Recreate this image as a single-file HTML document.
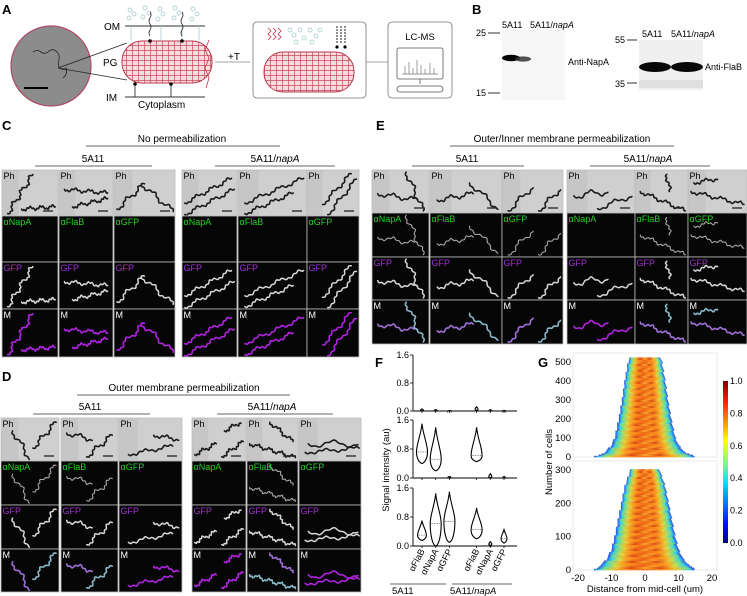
<!DOCTYPE html>
<html><head><meta charset="utf-8">
<style>
html,body{margin:0;padding:0;background:#fff;}
svg{display:block;font-family:"Liberation Sans",Arial,sans-serif;}
</style></head>
<body>
<svg id="fig" width="747" height="596" viewBox="0 0 747 596" xmlns="http://www.w3.org/2000/svg">
<defs>
<pattern id="pgGrid" width="6" height="5" patternUnits="userSpaceOnUse">
<rect width="6" height="5" fill="#f7dde0"/>
<path d="M0 0.5H6M0.5 0V5" stroke="#c84a5a" stroke-width="0.7"/>
</pattern>
<linearGradient id="jet" x1="0" y1="1" x2="0" y2="0">
<stop offset="0" stop-color="#00008f"/><stop offset="0.12" stop-color="#0010ff"/>
<stop offset="0.37" stop-color="#00e0ff"/><stop offset="0.5" stop-color="#80ff80"/>
<stop offset="0.63" stop-color="#ffff00"/><stop offset="0.87" stop-color="#ff2000"/>
<stop offset="1" stop-color="#800000"/></linearGradient>
<linearGradient id="heatA" x1="0" y1="0" x2="1" y2="0">
<stop offset="0" stop-color="#2a50ff"/><stop offset="0.05" stop-color="#30d0e8"/>
<stop offset="0.14" stop-color="#b8e050"/><stop offset="0.24" stop-color="#ffa020"/>
<stop offset="0.5" stop-color="#f06a18"/><stop offset="0.76" stop-color="#ffa020"/>
<stop offset="0.86" stop-color="#b8e050"/><stop offset="0.95" stop-color="#30d0e8"/>
<stop offset="1" stop-color="#2a50ff"/></linearGradient>
<linearGradient id="heatB" x1="0" y1="0" x2="1" y2="0">
<stop offset="0" stop-color="#3060f0"/><stop offset="0.07" stop-color="#40d8d0"/>
<stop offset="0.18" stop-color="#e8e040"/><stop offset="0.3" stop-color="#f58a20"/>
<stop offset="0.45" stop-color="#e85010"/><stop offset="0.6" stop-color="#ffb030"/><stop offset="0.7" stop-color="#f07020"/>
<stop offset="0.82" stop-color="#e8e040"/><stop offset="0.93" stop-color="#40d8d0"/>
<stop offset="1" stop-color="#3060f0"/></linearGradient>
<linearGradient id="heatC" x1="0" y1="0" x2="1" y2="0">
<stop offset="0" stop-color="#2040e0"/><stop offset="0.06" stop-color="#60e0a0"/>
<stop offset="0.2" stop-color="#f0c030"/><stop offset="0.35" stop-color="#e04a10"/>
<stop offset="0.5" stop-color="#f8a028"/><stop offset="0.65" stop-color="#e05010"/>
<stop offset="0.8" stop-color="#f0c030"/><stop offset="0.94" stop-color="#60e0a0"/>
<stop offset="1" stop-color="#2040e0"/></linearGradient>
</defs>

<!-- Panel A -->
<g>
<text x="2" y="14" font-size="13" font-weight="bold">A</text>
<circle cx="51" cy="66" r="40" fill="#8c8c8c" stroke="#b04a62" stroke-width="1.2"/>
<path d="M33 52 q4 -3 8 0 q4 3 8 -1 q4 -3 8 1 q3 3 2 8 q-2 5 1 8 q4 3 6 0 q2 6 -3 10" fill="none" stroke="#222" stroke-width="0.8"/>
<line x1="24" y1="88" x2="48" y2="88" stroke="#000" stroke-width="2"/>
<line x1="58" y1="68" x2="127" y2="43" stroke="#222" stroke-width="0.8"/>
<line x1="58" y1="68" x2="127" y2="80" stroke="#222" stroke-width="0.8"/>
<text x="104" y="30" font-size="10">OM</text>
<line x1="125" y1="26" x2="205" y2="26" stroke="#333" stroke-width="0.9"/>
<text x="103" y="66" font-size="10">PG</text>
<text x="106" y="101" font-size="10">IM</text>
<line x1="125" y1="97" x2="205" y2="97" stroke="#333" stroke-width="0.9"/>
<text x="138" y="108" font-size="10">Cytoplasm</text>
<g stroke="#9cc4c8" fill="none" stroke-width="0.7">
<circle cx="130" cy="10" r="2"/><circle cx="134" cy="14" r="2"/><circle cx="129" cy="18" r="2"/>
<circle cx="145" cy="8" r="2"/><circle cx="149" cy="13" r="2"/><circle cx="143" cy="17" r="2"/>
<circle cx="160" cy="9" r="2"/><circle cx="163" cy="14" r="2"/><circle cx="158" cy="19" r="2"/>
<circle cx="175" cy="8" r="2"/><circle cx="179" cy="13" r="2"/><circle cx="174" cy="18" r="2"/>
<circle cx="193" cy="9" r="2"/><circle cx="197" cy="14" r="2"/><circle cx="192" cy="19" r="2"/>
<path d="M131 26V40M161 26V40M182 26V40M199 26V40"/>
</g>
<rect x="122" y="41" width="90" height="42" rx="20" fill="url(#pgGrid)" stroke="#b83a4e" stroke-width="1"/>
<path d="M150 12 q2 3 0 6 q-2 3 0 6 q2 3 0 6 q-2 3 0 6 M182 12 q2 3 0 6 q-2 3 0 6 q2 3 0 6 q-2 3 0 6" stroke="#222" stroke-width="0.8" fill="none"/>
<circle cx="150" cy="41" r="1.8" fill="#000"/><circle cx="182" cy="41" r="1.8" fill="#000"/>
<circle cx="135" cy="84" r="1.8" fill="#000"/><circle cx="171" cy="84" r="1.8" fill="#000"/>
<path d="M135 85v12M171 85v12" stroke="#222" stroke-width="0.8"/>
<path d="M209 40 l-4 10 l4 8 l-4 10 l4 10 l-3 10" stroke="#c83040" stroke-width="0.8" fill="none"/>
<text x="228" y="60" font-size="10">+T</text>
<line x1="215" y1="62" x2="250" y2="62" stroke="#888" stroke-width="0.8"/>
<rect x="253" y="22" width="113" height="76" rx="4" fill="#fff" stroke="#777" stroke-width="0.8"/>
<rect x="264" y="52" width="90" height="40" rx="19" fill="url(#pgGrid)" stroke="#b83a4e" stroke-width="1"/>
<g stroke="#9cc4c8" fill="none" stroke-width="0.7">
<circle cx="290" cy="30" r="2"/><circle cx="294" cy="35" r="2"/><circle cx="300" cy="30" r="2"/><circle cx="304" cy="38" r="2"/>
<circle cx="310" cy="30" r="2"/><circle cx="316" cy="36" r="2"/><circle cx="320" cy="30" r="2"/><circle cx="296" cy="42" r="2"/><circle cx="312" cy="42" r="2"/>
</g>
<path d="M268 28 l3 3 l-3 3 l3 3 l-3 3 M273 28 l3 3 l-3 3 l3 3 l-3 3 M278 28 l3 3 l-3 3 l3 3 l-3 3" stroke="#c83040" stroke-width="0.8" fill="none"/>
<path d="M337 26v18M341 26v18M345 26v18" stroke="#222" stroke-width="1" stroke-dasharray="2 1"/>
<circle cx="337" cy="47" r="1.6" fill="#000"/><circle cx="345" cy="47" r="1.6" fill="#000"/>
<line x1="366" y1="62" x2="388" y2="62" stroke="#888" stroke-width="0.8"/>
<rect x="388" y="22" width="64" height="76" rx="4" fill="#fff" stroke="#777" stroke-width="0.8"/>
<text x="420" y="40" font-size="9.5" text-anchor="middle">LC-MS</text>
<rect x="397" y="48" width="46" height="31" rx="2" fill="#fff" stroke="#555" stroke-width="0.8"/>
<path d="M402 74h36M405 74v-8M409 74v-12M413 74v-6M417 74v-14M421 74v-9M425 74v-5M430 74v-11M434 74v-6" stroke="#777" stroke-width="0.7"/>
<path d="M420 79v5" stroke="#555" stroke-width="0.8"/>
<rect x="397" y="86" width="46" height="6" rx="3" fill="#fff" stroke="#555" stroke-width="0.8"/>
</g>

<!-- Panel B -->
<g>
<text x="472" y="14" font-size="13" font-weight="bold">B</text>
<text x="502" y="28" font-size="9">5A11</text>
<text x="530" y="28" font-size="9">5A11/<tspan font-style="italic">napA</tspan></text>
<rect x="502" y="30" width="63" height="70" fill="#f6f6f6"/>
<ellipse cx="511" cy="58" rx="9" ry="3.2" fill="#050505"/>
<ellipse cx="523" cy="59" rx="8" ry="2.6" fill="#333" opacity="0.85"/>
<text x="476" y="36" font-size="9">25</text>
<line x1="488" y1="33" x2="500" y2="33" stroke="#000" stroke-width="0.8"/>
<text x="476" y="96" font-size="9">15</text>
<line x1="488" y1="93" x2="500" y2="93" stroke="#000" stroke-width="0.8"/>
<text x="568" y="65" font-size="9">Anti-NapA</text>
<text x="642" y="37" font-size="9">5A11</text>
<text x="671" y="37" font-size="9">5A11/<tspan font-style="italic">napA</tspan></text>
<rect x="639" y="40" width="64" height="50" fill="#efefef"/>
<ellipse cx="655" cy="67" rx="16" ry="5" fill="#080808"/>
<ellipse cx="687" cy="67" rx="16" ry="5" fill="#080808"/>
<rect x="639" y="80" width="64" height="8" fill="#e0e0e0"/>
<text x="615" y="43" font-size="9">55</text>
<line x1="627" y1="40" x2="637" y2="40" stroke="#000" stroke-width="0.8"/>
<text x="615" y="87" font-size="9">35</text>
<line x1="627" y1="83" x2="637" y2="83" stroke="#000" stroke-width="0.8"/>
<text x="705" y="70" font-size="9">Anti-FlaB</text>
</g>

<!-- Headers C, D, E -->
<g font-size="10">
<text x="2" y="130" font-size="13" font-weight="bold">C</text>
<text x="182" y="142" text-anchor="middle">No permeabilization</text>
<line x1="86" y1="146" x2="280" y2="146" stroke="#333" stroke-width="0.8"/>
<text x="93" y="162" text-anchor="middle">5A11</text>
<line x1="35" y1="166" x2="152" y2="166" stroke="#333" stroke-width="0.8"/>
<text x="275" y="162" text-anchor="middle">5A11/<tspan font-style="italic">napA</tspan></text>
<line x1="215" y1="166" x2="335" y2="166" stroke="#333" stroke-width="0.8"/>

<text x="376" y="130" font-size="13" font-weight="bold">E</text>
<text x="562" y="142" text-anchor="middle">Outer/Inner membrane permeabilization</text>
<line x1="450" y1="146" x2="674" y2="146" stroke="#333" stroke-width="0.8"/>
<text x="467" y="162" text-anchor="middle">5A11</text>
<line x1="412" y1="166" x2="524" y2="166" stroke="#333" stroke-width="0.8"/>
<text x="648" y="162" text-anchor="middle">5A11/<tspan font-style="italic">napA</tspan></text>
<line x1="590" y1="166" x2="710" y2="166" stroke="#333" stroke-width="0.8"/>

<text x="2" y="381" font-size="13" font-weight="bold">D</text>
<text x="184" y="391" text-anchor="middle">Outer membrane permeabilization</text>
<line x1="77" y1="395" x2="290" y2="395" stroke="#333" stroke-width="0.8"/>
<text x="90" y="410" text-anchor="middle">5A11</text>
<line x1="33" y1="414" x2="150" y2="414" stroke="#333" stroke-width="0.8"/>
<text x="272" y="410" text-anchor="middle">5A11/<tspan font-style="italic">napA</tspan></text>
<line x1="217" y1="414" x2="333" y2="414" stroke="#333" stroke-width="0.8"/>
</g>

<g id="tiles"></g>

<!-- Panel F -->
<g id="panelF">
<text x="375" y="367" font-size="13" font-weight="bold">F</text>
<text transform="translate(389,470) rotate(-90)" font-size="9.5" text-anchor="middle">Signal intensity (au)</text>
</g>

<!-- Panel G -->
<g id="panelG">
<text x="538" y="367" font-size="13" font-weight="bold">G</text>
<text transform="translate(552,462) rotate(-90)" font-size="9.5" text-anchor="middle">Number of cells</text>
<text x="645" y="592" font-size="9.5" text-anchor="middle">Distance from mid-cell (um)</text>
<rect x="723" y="381" width="5" height="162" fill="url(#jet)"/>
</g>
</svg>

<script>
// ===== Panel F data =====
var fCategories = ["\u03b1FlaB","\u03b1NapA","\u03b1GFP","\u03b1FlaB","\u03b1NapA","\u03b1GFP"];
var fTicks = [0, 0.8, 1.6];
var fTickLabels = ["0.0","0.8","1.6"];
var topMin = [0,0,0,0,0,0];
var topMed = [0.02,0.02,0,0.05,0.01,0];
var topMax = [0.06,0.04,0.01,0.12,0.04,0.02];
var midMin = [0.4,0.2,0,0.45,0,0];
var midMed = [0.72,0.52,0.02,0.62,0.03,0.01];
var midMax = [1.5,1.4,0.04,1.4,0.12,0.04];
var botMin = [0.15,0,0.1,0.2,0,0.08];
var botMed = [0.3,0.62,0.68,0.45,0.05,0.2];
var botMax = [0.7,1.45,1.5,1.05,0.12,0.45];

// ===== Panel G data =====
var gTicksUpper = [0,100,200,300,400,500];
var gTicksLower = [0,100,200,300];
var gXTicks = [-20,-10,0,10,20];
var cbTicks = [0,0.2,0.4,0.6,0.8,1.0];
var upperCells = [0,20,60,100,200,300,400,500,520];
var upperHalf = [15,12,10,9,7.8,6.8,6,5,4.5];
var lowerCells = [0,10,30,60,100,150,200,250,300];
var lowerHalf = [15,13.5,11.5,10,9,8,7,6,4.3];

var NS = "http://www.w3.org/2000/svg";
function mk(tag, attrs, parent){
  var e = document.createElementNS(NS, tag);
  for (var k in attrs) e.setAttribute(k, attrs[k]);
  if (parent) parent.appendChild(e);
  return e;
}

// ===== Micrograph tiles =====
var tilesG = document.getElementById("tiles");
function wave(x1,y1,x2,y2,amp,per){
  var pts=[], n=60, dx=x2-x1, dy=y2-y1, L=Math.sqrt(dx*dx+dy*dy), nx=-dy/L, ny=dx/L;
  for (var i=0;i<=n;i++){var t=i/n, s=amp*Math.sin(t*per*2*Math.PI) + 0.8*Math.sin(t*per*7*Math.PI);
    pts.push((x1+dx*t+nx*s).toFixed(1)+","+(y1+dy*t+ny*s).toFixed(1));}
  return "M"+pts.join(" L");
}
var colsC = [
 [[0.1,0.95,0.55,0.1,2,3],[0.35,0.85,0.95,0.8,1.5,3]],
 [[0.1,0.42,0.9,0.5,1.5,3],[0.25,0.8,0.9,0.62,1.5,3]],
 [[0.05,0.85,0.5,0.3,2,2],[0.45,0.3,0.97,0.9,2,2]],
 [[0.05,0.72,0.9,0.18,1.5,3],[0.05,0.97,0.95,0.42,1.5,3]],
 [[0.1,0.72,0.95,0.18,1.5,3],[0.1,0.95,0.8,0.5,1.5,3]],
 [[0.3,0.75,0.85,0.08,1.5,2],[0.4,0.97,0.95,0.2,1.5,2]]
];
var colsD = [
 [[0.2,0.3,0.5,0.95,2,1.5],[0.55,0.7,0.95,0.1,2,2]],
 [[0.1,0.35,0.55,0.5,2,1.5],[0.45,0.9,0.9,0.4,2,2]],
 [[0.55,0.4,0.95,0.5,1.5,1.5],[0.15,0.85,0.85,0.65,1.5,2]],
 [[0.05,0.85,0.45,0.6,1.5,2],[0.55,0.9,0.95,0.55,1.5,2],[0.6,0.3,0.9,0.1,1.5,1.5]],
 [[0.45,0.1,0.9,0.55,1.5,2],[0.05,0.6,0.95,0.92,1.5,4]],
 [[0.15,0.6,0.95,0.6,3,1.5],[0.1,0.8,0.97,0.7,1.5,2]]
];
var colsE = [
 [[0.1,0.55,0.8,0.7,2,2],[0.6,0.05,0.9,0.95,2,2]],
 [[0.1,0.7,0.6,0.55,2,2],[0.55,0.3,0.95,0.9,2,1.5]],
 [[0.1,0.95,0.5,0.4,2,1.5],[0.6,0.95,0.95,0.45,2,1.5]],
 [[0.1,0.6,0.6,0.5,3,1.5],[0.45,0.9,0.95,0.6,2,1.5]],
 [[0.1,0.5,0.95,0.95,1.5,3],[0.6,0.1,0.65,0.5,1.5,1]],
 [[0.05,0.5,0.95,0.8,1.5,3],[0.1,0.3,0.5,0.2,1.5,1.5]]
];
var abLabels = ["\u03b1NapA","\u03b1FlaB","\u03b1GFP","\u03b1NapA","\u03b1FlaB","\u03b1GFP"];
function drawGrid(name, xs, ys, cols, abSignal){
  var g = mk("g", {}, tilesG);
  
  
  for (var c=0;c<6;c++){
    for (var r=0;r<4;r++){
      var x=xs[c][0], w=xs[c][1]-xs[c][0], y=ys[r], h=ys[r+1]-ys[r];
      var tg = mk("g", {}, g);
      
      
      var bg = r==0 ? "#c6c6c6" : "#060606";
      mk("rect",{x:x,y:y,width:w,height:h,fill:bg},tg);
      if (r==0) mk("rect",{x:x+w*0.3,y:y,width:w*0.7,height:h,fill:"#d6d6d6",opacity:0.6},tg);
      var show = r==0 || r==2 || r==3 || (r==1 && abSignal[c]);
      if (show){
        var col, sw;
        if (r==0){col="#1a1a1a"; sw=1.6;}
        else if (r==1){col="#a8a8a8"; sw=1.1;}
        else if (r==2){col="#d8d8d8"; sw=1.5;}
        else {col = abSignal[c] ? "#a070d8" : "#b024e0"; sw=1.6;}
        cols[c].forEach(function(cv, i){
          var sc = col;
          if (r==3 && abSignal[c] && i==1) sc = "#88b8c8";
          var p = mk("path",{d:wave(x+cv[0]*w,y+cv[1]*h,x+cv[2]*w,y+cv[3]*h,cv[4],cv[5]),fill:"none",stroke:sc,"stroke-width":sw,"stroke-linecap":"round"},tg);
          
          
        });
      }
      if (r==0) mk("line",{x1:x+w-15,y1:y+h-5,x2:x+w-5,y2:y+h-5,stroke:"#222","stroke-width":1.3},tg);
      var lab = r==0 ? "Ph" : r==1 ? abLabels[c] : r==2 ? "GFP" : "M";
      var lc = r==0 ? "#000" : r==1 ? "#28d028" : r==2 ? "#a030d0" : "#fff";
      var t = mk("text",{x:x+1.5,y:y+9,"font-size":9,fill:lc},tg);
      t.textContent = lab;
      
      
      mk("rect",{x:x,y:y,width:w,height:h,fill:"none",stroke:"#bdbdbd","stroke-width":0.8},tg);
    }
  }
}
drawGrid("grid-c", [[2,58],[59,113],[114,175],[182,237],[238,307],[307,359]], [170,216,262,309,357], colsC, [0,0,0,0,0,0]);
drawGrid("grid-d", [[1,59],[61,118],[119,182],[192,246],[247,298],[299,361]], [418,461,505,549,592], colsD, [1,1,0,0,1,0]);
drawGrid("grid-e", [[372,429],[430,502],[502,563],[567,635],[635,688],[688,747]], [170,213,257,300,344], colsE, [1,1,1,0,1,1]);

// ===== Panel F drawing =====
var F = document.getElementById("panelF");
var axX0 = 413, axX1 = 517;
function catX(i){ return 422 + i*13.7 + (i>=3 ? 13.5 : 0); }
function drawViolinPanel(name, y0, y16, mins, meds, maxs){
  var g = mk("g", {}, F);
  
  
  function yS(v){ return y0 - (v/1.6)*(y0-y16); }
  mk("line",{x1:axX0,y1:yS(1.6),x2:axX0,y2:y0,stroke:"#000","stroke-width":0.9},g);
  mk("line",{x1:axX0,y1:y0,x2:axX1,y2:y0,stroke:"#000","stroke-width":0.9},g);
  for (var k=0;k<fTicks.length;k++){
    mk("line",{x1:axX0-3,y1:yS(fTicks[k]),x2:axX0,y2:yS(fTicks[k]),stroke:"#000","stroke-width":0.8},g);
    var t = mk("text",{x:axX0-4,y:yS(fTicks[k])+3,"font-size":9,"text-anchor":"end"},g);
    t.textContent = fTickLabels[k];
    
    
  }
  for (var i=0;i<fCategories.length;i++){
    var cx = catX(i);
    mk("line",{x1:cx,y1:y0,x2:cx,y2:y0+2,stroke:"#000","stroke-width":0.8},g);
    var ymin=yS(mins[i]), ymed=yS(meds[i]), ymax=yS(maxs[i]);
    var hw = Math.min(5.5, Math.max(1.5,(ymin-ymax)*0.22));
    var d = "M"+cx+","+ymin+" C"+(cx+hw*0.6)+","+(ymin-1)+" "+(cx+hw)+","+(ymed+(ymin-ymed)*0.5)+" "+(cx+hw)+","+ymed+
            " C"+(cx+hw)+","+(ymed-(ymed-ymax)*0.3)+" "+(cx+1)+","+(ymax+(ymed-ymax)*0.4)+" "+cx+","+ymax+
            " C"+(cx-1)+","+(ymax+(ymed-ymax)*0.4)+" "+(cx-hw)+","+(ymed-(ymed-ymax)*0.3)+" "+(cx-hw)+","+ymed+
            " C"+(cx-hw)+","+(ymed+(ymin-ymed)*0.5)+" "+(cx-hw*0.6)+","+(ymin-1)+" "+cx+","+ymin+"Z";
    var v = mk("path",{d:d,fill:"#fff",stroke:"#000","stroke-width":1.1},g);
    
    
    mk("line",{x1:cx-hw*0.8,y1:ymed,x2:cx+hw*0.8,y2:ymed,stroke:"#555","stroke-width":0.6,"stroke-dasharray":"1.5 1"},g);
  }
}
drawViolinPanel("violin-top", 411, 355, topMin, topMed, topMax);
drawViolinPanel("violin-mid", 478, 420, midMin, midMed, midMax);
drawViolinPanel("violin-bottom", 546, 488, botMin, botMed, botMax);
for (var i=0;i<fCategories.length;i++){
  var t = mk("text",{transform:"translate("+(catX(i)+3)+",551) rotate(-62)","font-size":9,"text-anchor":"end"},F);
  t.textContent = fCategories[i];
  
  
}
mk("line",{x1:390,y1:584,x2:446,y2:584,stroke:"#333","stroke-width":0.8},F);
mk("line",{x1:452,y1:584,x2:512,y2:584,stroke:"#333","stroke-width":0.8},F);
var g1 = mk("text",{x:392,y:594,"font-size":9.5},F);
g1.textContent = "5A11";


var g2 = mk("text",{x:450,y:594,"font-size":9.5},F);
g2.innerHTML = '5A11/<tspan font-style="italic">napA</tspan>';



// ===== Panel G drawing =====
var G = document.getElementById("panelG");
var gx0 = 578, gx1 = 712;
function xG(v){ return gx0 + (v+20)/40*(gx1-gx0); }
var grads = ["url(#heatA)","url(#heatB)","url(#heatC)","url(#heatA)","url(#heatC)"];
function drawHeat(name, yBot, yTop, maxCells, cells, half, ticks){
  var g = mk("g", {}, G);
  
  
  function yS(c){ return yBot - c/maxCells*(yBot-yTop); }
  mk("rect",{x:573,y:yTop-9,width:144,height:yBot-yTop+9,fill:"#fff",stroke:"#ddd","stroke-width":0.6},g);
  var top = cells[cells.length-1];
  var step = 1.2, idx=0, n=0;
  for (var y=yBot; y>yS(top); y-=step){
    var c = (yBot-y)/(yBot-yTop)*maxCells;
    while (idx<cells.length-2 && c>cells[idx+1]) idx++;
    var f = (c-cells[idx])/(cells[idx+1]-cells[idx]);
    var hw = half[idx] + (half[idx+1]-half[idx])*f;
    var j = ((n*7)%5);
    var off = ((n*13)%7-3)*0.07;
    var r = mk("rect",{x:xG(-hw+off),y:y-step,width:xG(hw+off)-xG(-hw+off),height:step+0.3,fill:grads[j]},g);
    
    
    n++;
  }
  for (var k=0;k<ticks.length;k++){
    var t = mk("text",{x:571,y:yS(ticks[k])+3,"font-size":9.5,"text-anchor":"end"},g);
    t.textContent = ticks[k];
    
    
  }
}
drawHeat("heatmap-upper", 457, 362, 500, upperCells, upperHalf, gTicksUpper);
drawHeat("heatmap-lower", 570, 470, 300, lowerCells, lowerHalf, gTicksLower);
for (var k=0;k<gXTicks.length;k++){
  var t = mk("text",{x:xG(gXTicks[k]),y:581,"font-size":9.5,"text-anchor":"middle"},G);
  t.textContent = gXTicks[k];
  
  
}
for (var k=0;k<cbTicks.length;k++){
  var t = mk("text",{x:730,y:543-cbTicks[k]*162+3,"font-size":9},G);
  t.textContent = cbTicks[k].toFixed(1);
  
  
}
</script>
</body></html>
